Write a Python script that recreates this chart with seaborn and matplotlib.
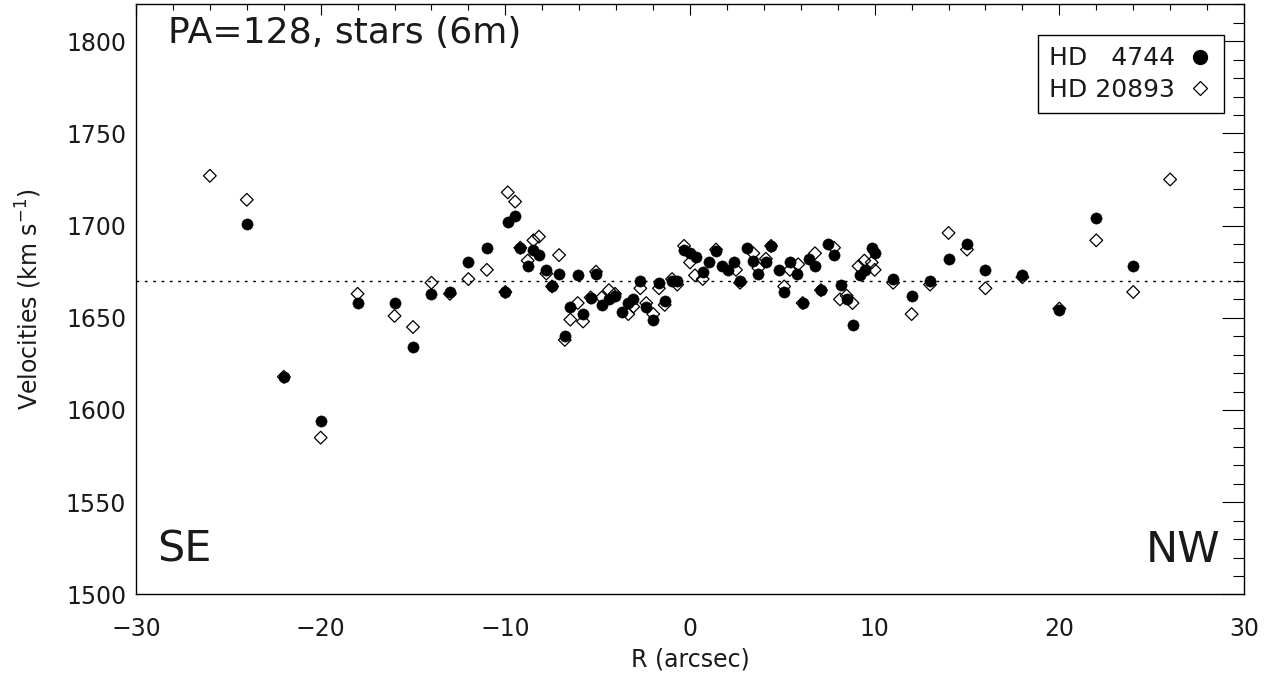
import numpy as np
import pandas as pd
import matplotlib
matplotlib.use("Agg")
import matplotlib.pyplot as plt
import seaborn as sns
from matplotlib.ticker import MultipleLocator
from matplotlib.lines import Line2D

# ---------------- data ----------------
r_hd4744 = [-24, -22, -20, -18, -16, -15, -14, -13, -12, -11, -10,
            -9.87, -9.47, -9.19, -8.79, -8.48, -8.18, -7.78, -7.47, -7.09,
            -6.78, -6.48, -6.08, -5.79, -5.38, -5.09, -4.78, -4.39, -4.06,
            -3.70, -3.34, -3.07, -2.69, -2.37, -1.99, -1.68, -1.37, -0.97,
            -0.69, -0.32, 0.0, 0.32, 0.69, 1.04, 1.41, 1.72, 2.07, 2.40,
            2.71, 3.10, 3.43, 3.70, 4.11, 4.39, 4.80, 5.10, 5.41, 5.79,
            6.10, 6.46, 6.77, 7.09, 7.49, 7.80, 8.19, 8.48, 8.80, 9.20,
            9.47, 9.84, 10.0, 11, 12, 13, 14, 15, 16, 18, 20, 22, 24]
v_hd4744 = [1701, 1618, 1594, 1658, 1658, 1634, 1663, 1664, 1680, 1688, 1664,
            1702, 1705, 1688, 1678, 1687, 1684, 1676, 1667, 1674,
            1640, 1656, 1673, 1652, 1661, 1674, 1657, 1660, 1662,
            1653, 1658, 1660, 1670, 1656, 1649, 1669, 1659, 1670,
            1670, 1687, 1685, 1683, 1675, 1680, 1686, 1678, 1676, 1680,
            1670, 1688, 1681, 1674, 1680, 1689, 1676, 1664, 1680, 1674,
            1658, 1682, 1678, 1665, 1690, 1684, 1668, 1660, 1646, 1673,
            1676, 1688, 1685, 1671, 1662, 1670, 1682, 1690, 1676, 1673, 1654, 1704, 1678]

r_hd20893 = [-26, -24, -22, -20, -18, -16, -15, -14, -13, -12, -11, -10,
             -9.87, -9.47, -9.19, -8.79, -8.48, -8.18, -7.78, -7.47, -7.09,
             -6.78, -6.48, -6.08, -5.79, -5.38, -5.09, -4.78, -4.39, -4.06,
             -3.34, -3.07, -2.69, -2.37, -1.99, -1.68, -1.37, -0.97, -0.69,
             -0.32, 0.0, 0.27, 0.69, 1.41, 2.49, 2.71, 3.43, 3.70, 4.11,
             4.39, 5.10, 5.41, 5.86, 6.10, 6.77, 7.09, 7.80, 8.12, 8.48,
             8.80, 9.13, 9.44, 9.84, 10.0, 11, 12, 13, 14, 15, 16, 18, 20,
             22, 24, 26]
v_hd20893 = [1727, 1714, 1618, 1585, 1663, 1651, 1645, 1669, 1663, 1671, 1676, 1664,
             1718, 1713, 1688, 1681, 1692, 1694, 1674, 1667, 1684,
             1638, 1649, 1658, 1648, 1661, 1675, 1661, 1665, 1663,
             1652, 1656, 1666, 1658, 1652, 1666, 1657, 1671, 1668,
             1689, 1680, 1673, 1671, 1687, 1676, 1669, 1685, 1677, 1682,
             1689, 1667, 1676, 1679, 1658, 1685, 1665, 1688, 1660, 1662,
             1658, 1678, 1681, 1680, 1676, 1669, 1652, 1668, 1696, 1687, 1666, 1672, 1655,
             1692, 1664, 1725]

systemic_velocity = 1670
series_labels = ["HD   4744", "HD 20893"]
title_text = "PA=128, stars (6m)"
side_labels = ["SE", "NW"]
x_ticks = [-30, -20, -10, 0, 10, 20, 30]
y_ticks = [1500, 1550, 1600, 1650, 1700, 1750, 1800]

df_a = pd.DataFrame({"R": r_hd4744, "V": v_hd4744})
df_b = pd.DataFrame({"R": r_hd20893, "V": v_hd20893})

# ---------------- style ----------------
sns.set_style("white")
plt.rcParams["font.family"] = ["DejaVu Sans"]
plt.rcParams["axes.unicode_minus"] = True
txt_color = "#1a1a1a"

fig = plt.figure(figsize=(12.73, 6.81), dpi=100)
ax = fig.add_axes([136 / 1273, 1 - 594.4 / 681, (1244 - 136) / 1273, (594.4 - 4.3) / 681])

sns.scatterplot(data=df_b, x="R", y="V", marker="D", s=42, facecolor="none",
                edgecolor="black", linewidth=0.9, ax=ax, zorder=3)
sns.scatterplot(data=df_a, x="R", y="V", marker="o", s=66, color="black",
                edgecolor="black", linewidth=0.3, ax=ax, zorder=4)

ax.axhline(systemic_velocity, color="black", lw=1.0, ls=(0, (2, 4)), zorder=2)

ax.set_xlim(-30, 30)
ax.set_ylim(1500, 1820)
ax.set_xticks(x_ticks)
ax.set_yticks(y_ticks)
ax.xaxis.set_minor_locator(MultipleLocator(2))
ax.yaxis.set_minor_locator(MultipleLocator(10))

ax.tick_params(axis="both", which="both", direction="in", top=True, right=True,
               color="black", width=0.8, labelsize=17, labelcolor=txt_color)
ax.tick_params(axis="x", which="major", length=8, pad=16)
ax.tick_params(axis="x", which="minor", length=4)
ax.tick_params(axis="y", which="major", length=16, pad=7)
ax.tick_params(axis="y", which="minor", length=8)
for sp in ax.spines.values():
    sp.set_linewidth(1.0)
    sp.set_color("black")

ax.set_xlabel("R (arcsec)", fontsize=17, color=txt_color, labelpad=5)
ax.set_ylabel("Velocities (km s$^{-1}$)", fontsize=17, color=txt_color, labelpad=16)

ax.text(168 / 1273, 1 - 33 / 681, title_text, transform=fig.transFigure,
        fontsize=26, color=txt_color, ha="left", va="center")
ax.text(0.019, 0.04, side_labels[0], transform=ax.transAxes, fontsize=31,
        color=txt_color, ha="left", va="bottom")
ax.text(0.979, 0.04, side_labels[1], transform=ax.transAxes, fontsize=31,
        color=txt_color, ha="right", va="bottom")

handles = [
    Line2D([], [], ls="none", marker="o", markersize=10, markerfacecolor="black",
           markeredgecolor="black"),
    Line2D([], [], ls="none", marker="D", markersize=7, markerfacecolor="none",
           markeredgecolor="black", markeredgewidth=0.9),
]
leg = ax.legend(handles, series_labels, loc="upper right",
                bbox_to_anchor=(1224 / 1273, 1 - 35 / 681),
                bbox_transform=fig.transFigure, borderaxespad=0,
                markerfirst=False, frameon=True, fancybox=False, framealpha=1,
                edgecolor="black", fontsize=18, handlelength=1.0,
                handletextpad=0.5, labelspacing=0.3, borderpad=0.45)
leg.get_frame().set_linewidth(1.0)
for t in leg.get_texts():
    t.set_color(txt_color)

fig.savefig("out.png", dpi=100)
